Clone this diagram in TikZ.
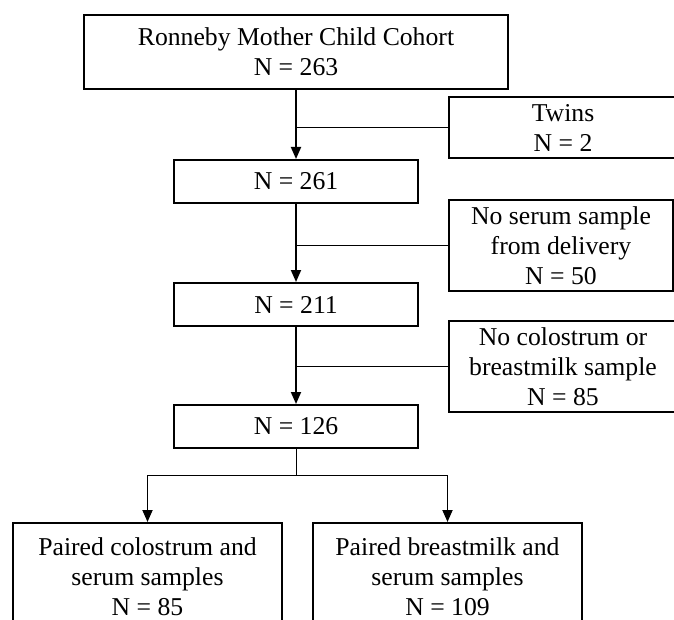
\documentclass[tikz,border=0pt]{standalone}
\usepackage{fontspec}
\setmainfont{Liberation Serif}
\usetikzlibrary{arrows.meta}

\begin{document}
\begin{tikzpicture}[
  x=0.5pt, y=-0.5pt,
  font=\fontsize{12.85}{15}\selectfont,
  flowbox/.style={draw=black, line width=1pt, inner sep=0pt, align=center},
  mainbox/.style={flowbox, minimum width=122pt, minimum height=21.5pt},
  excludebox/.style={flowbox, minimum width=112pt},
  pairbox/.style={flowbox, minimum width=134.5pt, minimum height=54pt},
  arrowline/.style={line width=0.9pt, -{Triangle[width=5pt,length=6pt]}},
  thinline/.style={line width=0.5pt},
]

%FRAME
\useasboundingbox (0,0) rectangle (674,620);
\clip (0,0) rectangle (674,620);

%MAIN COLUMN
\node[flowbox, minimum width=212pt, minimum height=37pt] (cohort) at (296,52) {Ronneby Mother Child Cohort\\N = 263};
\node[mainbox] (n261) at (296,181.5) {N = 261};
\node[mainbox] (n211) at (296,304.5) {N = 211};
\node[mainbox] (n126) at (296,426.5) {N = 126};

%EXCLUSIONS
\node[excludebox, minimum width=114pt, minimum height=30.5pt] (twins) at (563,127.5) {Twins\\N = 2};
\node[excludebox, minimum height=45.5pt] (noserum) at (561,245.5) {No serum sample\\from delivery\\N = 50};
\node[excludebox, minimum width=114pt, minimum height=45.5pt] (nomilk) at (563,366.5) {No colostrum or\\breastmilk sample\\N = 85};

%PAIRED SAMPLES
\node[pairbox] (colpair) at (147.5,577) {Paired colostrum and\\serum samples\\N = 85};
\node[pairbox] (milkpair) at (447.5,577) {Paired breastmilk and\\serum samples\\N = 109};

%ARROWS
\draw[arrowline] (cohort.south) -- (n261.north);
\draw[arrowline] (n261.south) -- (n211.north);
\draw[arrowline] (n211.south) -- (n126.north);

\draw[thinline] (twins.west) -- (twins.west -| cohort.south);
\draw[thinline] (noserum.west) -- (noserum.west -| n261.south);
\draw[thinline] (nomilk.west) -- (nomilk.west -| n211.south);

%SPLIT
\coordinate (split) at (296,475);
\draw[thinline] (n126.south) -- (split);
\draw[thinline] (split -| colpair.north) -- (split -| milkpair.north);
\draw[arrowline] (split -| colpair.north) -- (colpair.north);
\draw[arrowline] (split -| milkpair.north) -- (milkpair.north);

\end{tikzpicture}
\end{document}
